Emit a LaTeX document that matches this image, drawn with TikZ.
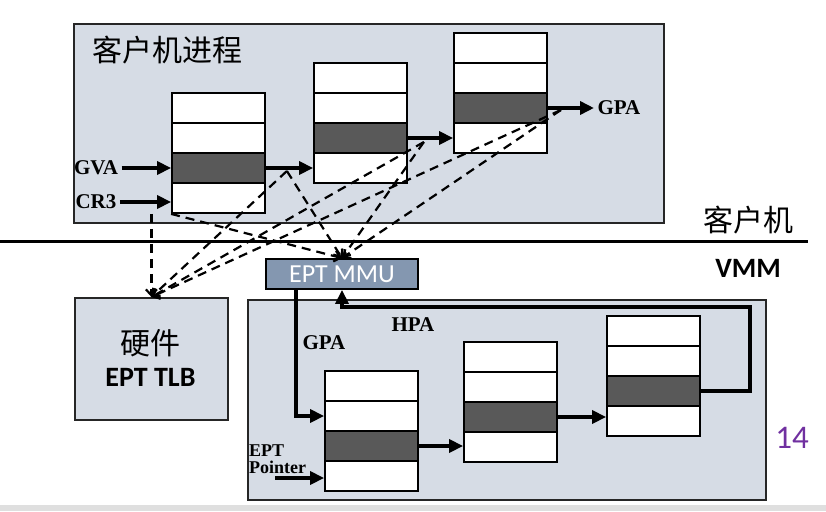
\documentclass[tikz,border=0pt]{standalone}
\usepackage{fontspec}
\setmainfont{Liberation Serif}
\newfontfamily\cjk{Noto Sans CJK SC}
\newfontfamily\carlito{Carlito}
\usetikzlibrary{arrows.meta,calc,positioning}
\definecolor{panelgray}{HTML}{D6DCE5}
\definecolor{rowdark}{HTML}{595959}
\definecolor{mmublue}{HTML}{8497B0}
\definecolor{pagepurple}{HTML}{7030A0}
\tikzset{
  panel/.style={draw=black!85,fill=panelgray,line width=1.8pt,anchor=north west,inner sep=0pt},
  cell/.style={draw=black,fill=white,line width=1.8pt,minimum width=93pt,minimum height=30pt,inner sep=0pt},
  darkcell/.style={cell,fill=rowdark},
  bigarrow/.style={line width=4pt,-{Triangle[length=14pt,width=13pt]}},
  dashline/.style={line width=2.2pt,dash pattern=on 9pt off 6pt,-{Straight Barb[length=6pt,width=11pt]}},
  seriflabel/.style={font=\bfseries\fontsize{21}{21}\selectfont},
  cjklabel/.style={font=\cjk\fontsize{30}{30}\selectfont},
  mmubox/.style={draw=black,fill=mmublue,line width=1.8pt,minimum width=152pt,minimum height=30pt,inner sep=0pt,text=white,font=\carlito\fontsize{26}{26}\selectfont}
}
\begin{document}
\begin{tikzpicture}[x=1pt,y=-1pt]
\useasboundingbox (0,0) rectangle (826,511);
\fill[gray!25] (0,505) rectangle (826,511);
\node[panel,minimum width=590pt,minimum height=199pt] (guest) at (73,23) {};
\node[panel,minimum width=153pt,minimum height=122pt] (tlb) at (74,297) {};
\node[panel,minimum width=518pt,minimum height=200pt] (vmm) at (247,299) {};
\draw[line width=3pt] (0,241) -- (808,241);
\foreach \t/\x/\y in {g1/172/93,g2/314/63,g3/454/33,e1/325/371,e2/464/342,e3/607/316}{
  \foreach \r/\s in {1/cell,2/cell,3/darkcell,4/cell}{
    \node[\s] (\t-\r) at ({\x+46.5},{\y+15+30*(\r-1)}) {};}}
\node[cjklabel,anchor=west] (gtitle) at (89,50) {客户机进程};
\node[seriflabel] (gva) at (96,168) {GVA};
\node[seriflabel] (cr3) at (96,202) {CR3};
\node[seriflabel,anchor=west] (gpa) at (594,108) {GPA};
\node[cjklabel] (guestlbl) at (748,220) {客户机};
\node[font=\carlito\bfseries\fontsize{28}{28}\selectfont] (vmmlbl) at (748,268) {VMM};
\node[mmubox] (mmu) at (342,274) {EPT MMU};
\node[cjklabel] (hw) at (150.5,343) {硬件};
\node[font=\carlito\bfseries\fontsize{28}{28}\selectfont] (tlbtxt) at (150.5,377) {EPT TLB};
\node[seriflabel] (gpa2) at (324,343) {GPA};
\node[seriflabel] (hpa) at (413,325) {HPA};
\node[align=left,anchor=north west,inner sep=0pt,font=\bfseries\fontsize{18}{17}\selectfont] (eptptr) at (249,445) {EPT\\Pointer};
\node[font=\carlito\fontsize{33}{33}\selectfont,text=pagepurple] (pagenum) at (792,438) {14};
\draw[bigarrow] (gva.east) -- (gva.east -| g1-3.west);
\draw[bigarrow] (cr3.east) -- (cr3.east -| g1-4.west);
\draw[bigarrow] (g1-3.east) -- (g1-3.east -| g2-4.west);
\draw[bigarrow] (g2-3.east) -- (g2-3.east -| g3-4.west);
\draw[bigarrow] (g3-3.east) -- (gpa.west);
\draw[bigarrow] (e1-3.east) -- (e1-3.east -| e2-4.west);
\draw[bigarrow] (e2-3.east) -- (e2-3.east -| e3-4.west);
\coordinate (loopcorner) at (750,307);
\draw[bigarrow] (e3-3.east) -| (loopcorner) -| (mmu.south);
\draw[bigarrow] ([xshift=31pt]mmu.south west) |- (e1-2.west);
\coordinate (ptrtail) at (275,478);
\draw[bigarrow] (ptrtail) -- (ptrtail -| e1-4.west);
\coordinate (m1) at ($(g1-3.east)+(21,3)$);
\coordinate (m2) at ($(g2-3.east)+(16,4)$);
\coordinate (m3) at ($(g3-3.east)+(13,2)$);
\foreach \s in {g1-4.south west,m1,m2,m3}{\draw[dashline] (\s) -- (mmu.north);}
\foreach \s in {m1,m2,m3}{\draw[dashline] (\s) -- (tlb.north);}
\draw[dashline] (tlb.north |- g1-4.south) -- (tlb.north);
\end{tikzpicture}
\end{document}
